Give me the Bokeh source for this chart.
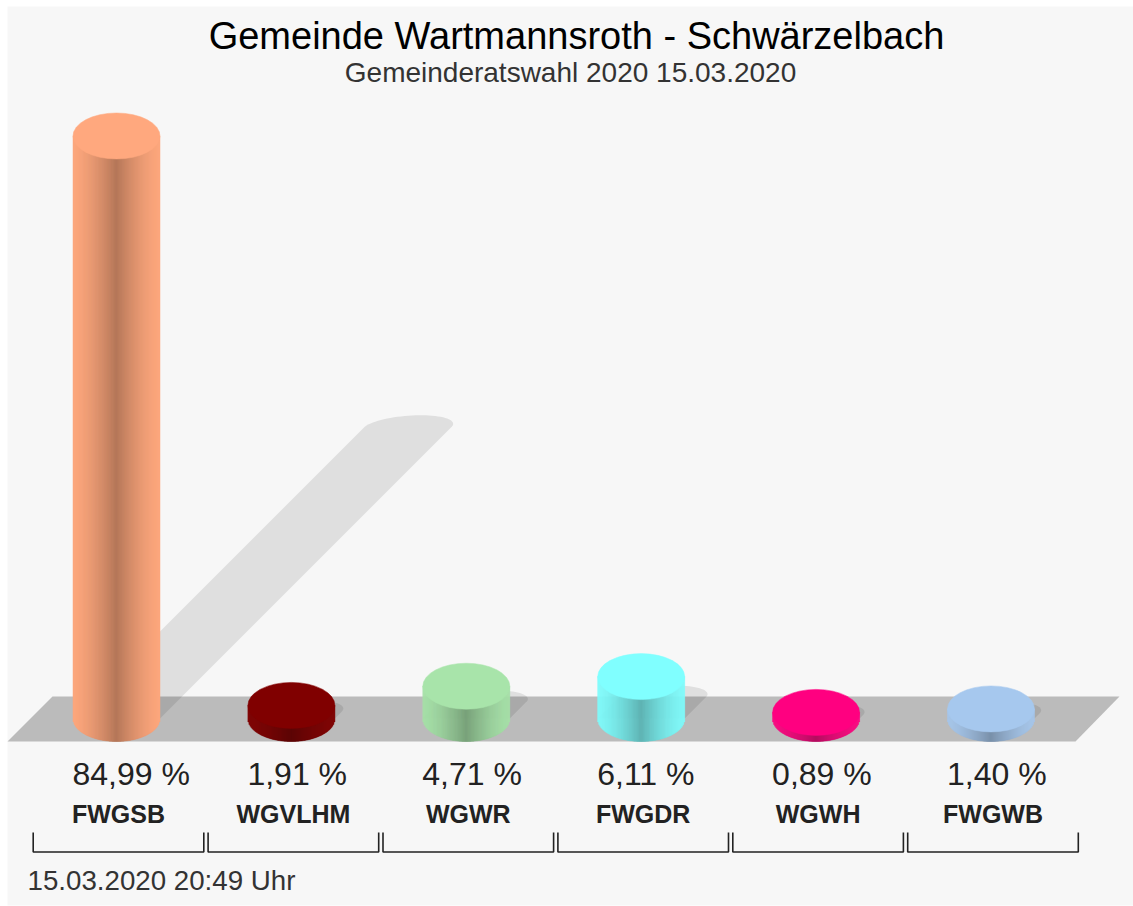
import numpy as np
from bokeh.embed import file_html
from bokeh.resources import INLINE
from bokeh.plotting import figure
from bokeh.models import ColumnDataSource, Range1d
from bokeh.core.properties import value

title_text = "Gemeinde Wartmannsroth - Schwärzelbach"
subtitle_text = "Gemeinderatswahl 2020 15.03.2020"
stamp_text = "15.03.2020 20:49 Uhr"
parties = ["FWGSB", "WGVLHM", "WGWR", "FWGDR", "WGWH", "FWGWB"]
shares = [84.99, 1.91, 4.71, 6.11, 0.89, 1.40]
share_labels = ["84,99 %", "1,91 %", "4,71 %", "6,11 %", "0,89 %", "1,40 %"]
colors = ["#FFA87E", "#800000", "#A8E4AA", "#80FFFF", "#FF0080", "#A6C8EE"]

W, H = 1133, 906
PX_PER_PCT = 6.854
PX_PER_CAT = 174.9
X0, Y0 = 116.0, 718.0      # page pixel of category 0 / value 0
RX, RY = 43.5, 23.0        # cylinder ellipse radii in pixels
FONT = value("Liberation Sans")


def dx(s):
    return (s - X0) / PX_PER_CAT


def dy(s):
    return (Y0 - s) / PX_PER_PCT


p = figure(width=W, height=H, output_backend="svg", toolbar_location=None,
           x_range=Range1d(dx(0), dx(W)), y_range=Range1d(dy(H), dy(0)),
           min_border=0, background_fill_color="#FFFFFF", border_fill_color="#FFFFFF",
           outline_line_color=None)
p.axis.visible = False
p.grid.visible = False

# panel
p.quad(left=[dx(7)], right=[dx(W)], bottom=[dy(905)], top=[dy(6)],
       fill_color="#F7F7F7", line_color=None)

# floor
p.patch(dx(np.array([7, 52, 1119, 1075])), dy(np.array([741, 696, 696, 741])),
        fill_color="#BBBBBB", line_color=None)

rx = RX / PX_PER_CAT
ry = RY / PX_PER_PCT
ry_shadow = 12.0 / PX_PER_PCT
skew_shadow = 13.0 / PX_PER_CAT

# shadows (half the bar height, leaning to the right at 45 degrees)
for i, v in enumerate(shares):
    lean = v * PX_PER_PCT / 2 / PX_PER_CAT
    cx, cy = i + lean, v / 2
    t = np.linspace(np.pi, 0, 40)
    xs = np.concatenate([[i - rx], cx + rx * np.cos(t) + skew_shadow * np.sin(t), [i + rx]])
    ys = np.concatenate([[0], cy + ry_shadow * np.sin(t), [0]])
    p.patch(xs, ys, fill_color="#000000", fill_alpha=0.095, line_color=None)

# cylinders: 1px strips for the side shading, ellipse on top
for i, (v, c) in enumerate(zip(shares, colors)):
    r, g, b = [int(c[k:k + 2], 16) for k in (1, 3, 5)]
    u = np.linspace(-1, 1, int(2 * RX) + 1)
    left, right = i + rx * u[:-1], i + rx * u[1:]
    mid = (u[:-1] + u[1:]) / 2
    f = 0.99 - 0.28 * (1 - np.abs(mid)) ** 1.5
    fills = ["#%02x%02x%02x" % (int(r * q), int(g * q), int(b * q)) for q in f]
    bottoms = -ry * np.sqrt(1 - mid ** 2)
    src = ColumnDataSource(dict(left=left, right=right, bottom=bottoms,
                                top=np.full_like(mid, v), fill=fills))
    p.quad(left="left", right="right", bottom="bottom", top="top", source=src,
           fill_color="fill", line_color="fill", line_width=0.5)
    p.ellipse(x=[i], y=[v], width=[2 * RX], height=[2 * RY],
              width_units="screen", height_units="screen",
              fill_color=c, line_color=c, line_width=0.5)

# brackets under each category
half = 85.3 / PX_PER_CAT
off = 2.0 / PX_PER_CAT
bx = [[i + off - half, i + off - half, i + off + half, i + off + half] for i in range(len(parties))]
by = [[dy(832), dy(851.5), dy(851.5), dy(832)] for _ in parties]
p.multi_line(bx, by, line_color="#222222", line_width=1.6)

# category texts
p.text(x=[i + dx(72) for i in range(len(parties))], y=[dy(773)] * len(parties), text=share_labels,
       text_font=FONT, text_font_size="32px", text_color="#222222",
       text_align="left", text_baseline="middle")
p.text(x=[i + off for i in range(len(parties))], y=[dy(813)] * len(parties), text=parties,
       text_font=FONT, text_font_size="25px", text_font_style="bold", text_color="#222222",
       text_align="center", text_baseline="middle")

p.text(x=[dx(576)], y=[dy(35)], text=[title_text], text_font=FONT, text_font_size="38px",
       text_color="#000000", text_align="center", text_baseline="middle")
p.text(x=[dx(570)], y=[dy(72)], text=[subtitle_text], text_font=FONT, text_font_size="28px",
       text_color="#333333", text_align="center", text_baseline="middle")
p.text(x=[dx(27)], y=[dy(880)], text=[stamp_text], text_font=FONT, text_font_size="27.7px",
       text_color="#333333", text_align="left", text_baseline="middle")

open("out.html", "w").write(file_html(p, INLINE))
